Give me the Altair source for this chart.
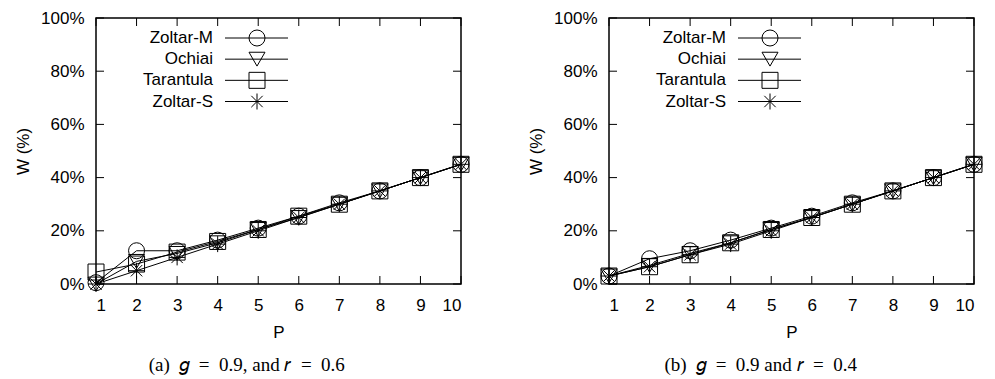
import altair as alt
import pandas as pd

series = ["Zoltar-M", "Ochiai", "Tarantula", "Zoltar-S"]
p_values = list(range(1, 11))
y_ticks = [0, 20, 40, 60, 80, 100]

# Panel (a): g = 0.9, r = 0.6
a_zoltar_m = [0.5, 12.5, 12.5, 16.5, 21, 25.5, 30.5, 35, 40, 45]
a_ochiai = [0, 8.5, 11.5, 15.5, 20.5, 25, 30, 35, 40, 45]
a_tarantula = [4.5, 7.5, 12, 16, 20.5, 25.5, 30, 35, 40, 45]
a_zoltar_s = [0, 5, 10, 15, 20, 25, 30, 35, 40, 45]

# Panel (b): g = 0.9, r = 0.4
b_zoltar_m = [3, 9.5, 12.5, 16.5, 21, 25.5, 30.5, 35, 40, 45]
b_ochiai = [3, 7, 11.5, 15.5, 20.5, 25, 30, 35, 40, 45]
b_tarantula = [3, 6.5, 11, 15.5, 20.5, 25, 30, 35, 40, 45]
b_zoltar_s = [3, 6.5, 11, 15, 20, 25, 30, 35, 40, 45]

SP = "\u2002"
caption_a = "(a)" + SP + "\U0001D454" + SP + "=" + SP + "0.9, and \U0001D45F" + SP + "=" + SP + "0.6"
caption_b = "(b)" + SP + "\U0001D454" + SP + "=" + SP + "0.9 and \U0001D45F" + SP + "=" + SP + "0.4"

ASTERISK = "M-1,0L1,0M0,-1L0,1M-0.71,-0.71L0.71,0.71M-0.71,0.71L0.71,-0.71"
shapes = ["circle", "triangle-down", "square", ASTERISK]

W, H = 365, 266
FONT = "Liberation Sans"


def make_df(cols):
    rows = []
    for s, vals in zip(series, cols):
        for p, v in zip(p_values, vals):
            rows.append({"series": s, "P": p, "W": v})
    return pd.DataFrame(rows)


def panel(cols, caption, dx):
    df = make_df(cols)
    xax = alt.Axis(values=p_values, title="P", labelPadding=13, titlePadding=11)
    yax = alt.Axis(values=y_ticks, title="W (%)", labelExpr="datum.value + '%'",
                   labelPadding=12, titlePadding=8)
    xs = alt.Scale(domain=[1, 10], nice=False, zero=False)
    ys = alt.Scale(domain=[0, 100], nice=False)
    shape_scale = alt.Scale(domain=series, range=shapes)

    base = alt.Chart(df)
    lines = base.mark_line(color="black", strokeWidth=1).encode(
        x=alt.X("P:Q", scale=xs, axis=xax),
        y=alt.Y("W:Q", scale=ys, axis=yax),
        detail="series:N",
    )
    pts = base.mark_point(filled=False, color="black", size=256, strokeWidth=1, opacity=1).encode(
        x=alt.X("P:Q", scale=xs, axis=xax),
        y=alt.Y("W:Q", scale=ys, axis=yax),
        shape=alt.Shape("series:N", scale=shape_scale, legend=None),
    )
    yt = pd.DataFrame({"v": y_ticks})
    xt = pd.DataFrame({"t": p_values})
    tl = alt.Chart(yt).mark_rule(color="black", strokeWidth=1).encode(
        y=alt.Y("v:Q", scale=ys, axis=yax), x=alt.value(0), x2=alt.value(8))
    tr = alt.Chart(yt).mark_rule(color="black", strokeWidth=1).encode(
        y=alt.Y("v:Q", scale=ys, axis=yax), x=alt.value(W - 8), x2=alt.value(W))
    tb = alt.Chart(xt).mark_rule(color="black", strokeWidth=1).encode(
        x=alt.X("t:Q", scale=xs, axis=xax), y=alt.value(H - 8), y2=alt.value(H))
    tt = alt.Chart(xt).mark_rule(color="black", strokeWidth=1).encode(
        x=alt.X("t:Q", scale=xs, axis=xax), y=alt.value(0), y2=alt.value(8))

    leg = pd.DataFrame({"series": series})
    ly = alt.Y("series:N", scale=alt.Scale(type="point", domain=series, range=[20, 83.5], padding=0), axis=None)
    leg_line = alt.Chart(leg).mark_rule(color="black", strokeWidth=1).encode(
        y=ly, x=alt.value(129), x2=alt.value(192))
    leg_pts = alt.Chart(leg).mark_point(filled=False, color="black", size=256, strokeWidth=1, opacity=1).encode(
        y=ly, x=alt.value(161), shape=alt.Shape("series:N", scale=shape_scale, legend=None))
    leg_txt = alt.Chart(leg).mark_text(align="right", baseline="middle", font=FONT, fontSize=17, color="black").encode(
        y=ly, x=alt.value(117), text="series:N")

    main = alt.layer(lines, pts, tl, tr, tb, tt)
    legend = alt.layer(leg_line, leg_pts, leg_txt)
    return alt.layer(main, legend).resolve_scale(y="independent").properties(
        width=W, height=H,
        title=alt.TitleParams(caption, orient="bottom", font="Liberation Serif", fontSize=19,
                              fontWeight="normal", color="black", offset=16, frame="bounds",
                              anchor="middle", dx=dx),
    )


chart = alt.hconcat(
    panel([a_zoltar_m, a_ochiai, a_tarantula, a_zoltar_s], caption_a, 4),
    panel([b_zoltar_m, b_ochiai, b_tarantula, b_zoltar_s], caption_b, 5),
    spacing=54,
).properties(
    padding={"left": 13, "top": 8, "right": 5, "bottom": 0},
    background="white",
).configure_view(
    stroke="black", strokeWidth=1.5
).configure_axis(
    grid=False, domain=False, ticks=False,
    labelFont=FONT, labelFontSize=17, labelColor="black",
    titleFont=FONT, titleFontSize=17, titleColor="black", titleFontWeight="normal",
)

chart.save("out.html", embed_options={"renderer": "svg", "actions": False})
